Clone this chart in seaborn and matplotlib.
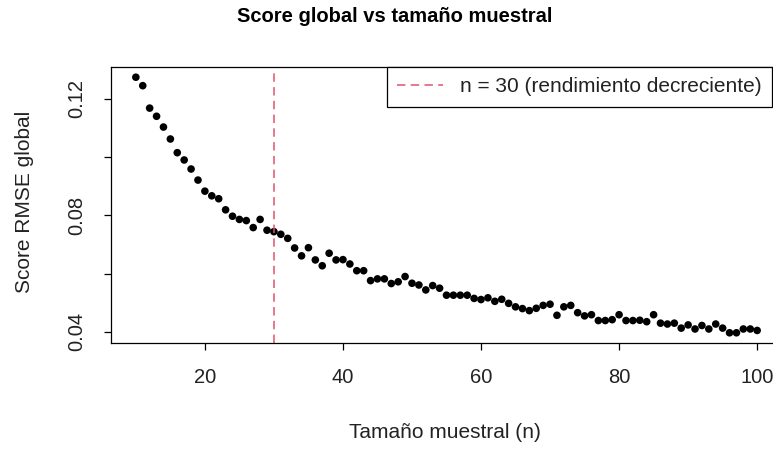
import numpy as np
import pandas as pd
import matplotlib
matplotlib.use("Agg")
import matplotlib.pyplot as plt
import seaborn as sns
from matplotlib.lines import Line2D

# Sample sizes and global RMSE score for each
n_values = list(range(10, 101))
rmse_score = [
    0.1274, 0.1245, 0.1168, 0.1140, 0.1103, 0.1062, 0.1015, 0.0990, 0.0959, 0.0921,  # 10-19
    0.0883, 0.0867, 0.0857, 0.0819, 0.0797, 0.0786, 0.0782, 0.0758, 0.0786, 0.0749,  # 20-29
    0.0744, 0.0735, 0.0721, 0.0688, 0.0661, 0.0689, 0.0647, 0.0627, 0.0670, 0.0647,  # 30-39
    0.0648, 0.0633, 0.0610, 0.0610, 0.0576, 0.0582, 0.0582, 0.0566, 0.0572, 0.0590,  # 40-49
    0.0567, 0.0561, 0.0544, 0.0559, 0.0550, 0.0526, 0.0526, 0.0526, 0.0526, 0.0515,  # 50-59
    0.0511, 0.0517, 0.0505, 0.0512, 0.0498, 0.0486, 0.0480, 0.0473, 0.0481, 0.0491,  # 60-69
    0.0495, 0.0457, 0.0486, 0.0491, 0.0466, 0.0455, 0.0459, 0.0439, 0.0439, 0.0442,  # 70-79
    0.0459, 0.0439, 0.0439, 0.0440, 0.0435, 0.0459, 0.0430, 0.0427, 0.0430, 0.0413,  # 80-89
    0.0424, 0.0410, 0.0422, 0.0410, 0.0427, 0.0413, 0.0397, 0.0397, 0.0410, 0.0410,  # 90-99
    0.0405,                                                                          # 100
]
threshold_n = 30
x_ticks = [20, 40, 60, 80, 100]
y_ticks = [0.04, 0.06, 0.08, 0.10, 0.12]
y_tick_labels = ["0.04", "", "0.08", "", "0.12"]

title = "Score global vs tamaño muestral"
x_label = "Tamaño muestral (n)"
y_label = "Score RMSE global"
legend_label = "n = 30 (rendimiento decreciente)"
line_color = "#DF536B"
text_color = "#222222"

df = pd.DataFrame({"n": n_values, "score": rmse_score})

sns.set_theme(style="white")
plt.rcParams["font.family"] = ["Liberation Sans", "DejaVu Sans"]

W, H = 773, 449
fig = plt.figure(figsize=(W / 100, H / 100), dpi=100)
left, right, top, bottom = 111, 782, 67, 343
ax = fig.add_axes([left / W, 1 - bottom / H, (right - left) / W, (bottom - top) / H])

sns.scatterplot(data=df, x="n", y="score", ax=ax, color="black",
                s=30, edgecolor="none", linewidth=0, legend=False)
ax.axvline(threshold_n, color=line_color, lw=1.1, ls=(0, (5.5, 3.5)))

# R-style padding of 4% around the data range
xr = max(n_values) - min(n_values)
yr = max(rmse_score) - min(rmse_score)
ax.set_xlim(min(n_values) - 0.04 * xr, max(n_values) + 0.04 * xr)
ax.set_ylim(min(rmse_score) - 0.04 * yr, max(rmse_score) + 0.04 * yr)

ax.set_xticks(x_ticks)
ax.set_xticklabels([str(v) for v in x_ticks])
ax.set_yticks(y_ticks)
ax.set_yticklabels(y_tick_labels, rotation=90, va="center")
ax.tick_params(axis="both", direction="out", length=5, width=0.9, color="black",
               labelsize=14.5, labelcolor=text_color, pad=13,
               bottom=True, left=True)
ax.set_xlabel("")
ax.set_ylabel("")
for sp in ax.spines.values():
    sp.set_visible(True)
    sp.set_color("black")
    sp.set_linewidth(0.9)

fig.text(445 / W, 1 - 433 / H, x_label, ha="center", va="center",
         fontsize=15, color=text_color)
fig.text(25 / W, 1 - 202 / H, y_label, ha="center", va="center", rotation=90,
         fontsize=15, color=text_color)
fig.text(395 / W, 1 - 17 / H, title, ha="center", va="center",
         fontsize=14.5, fontweight="bold", color="black")

handle = Line2D([], [], color=line_color, lw=1.1, ls=(0, (5.5, 3.5)))
leg = fig.legend([handle], [legend_label], loc="upper right",
                 bbox_to_anchor=(772 / W, 1 - 67 / H), bbox_transform=fig.transFigure,
                 fontsize=15, frameon=True, fancybox=False, framealpha=1,
                 edgecolor="black", borderpad=0.5, handlelength=2.2,
                 handletextpad=0.8, borderaxespad=0)
leg.get_frame().set_linewidth(0.9)
for t in leg.get_texts():
    t.set_color(text_color)

fig.savefig("out.png", dpi=100)
